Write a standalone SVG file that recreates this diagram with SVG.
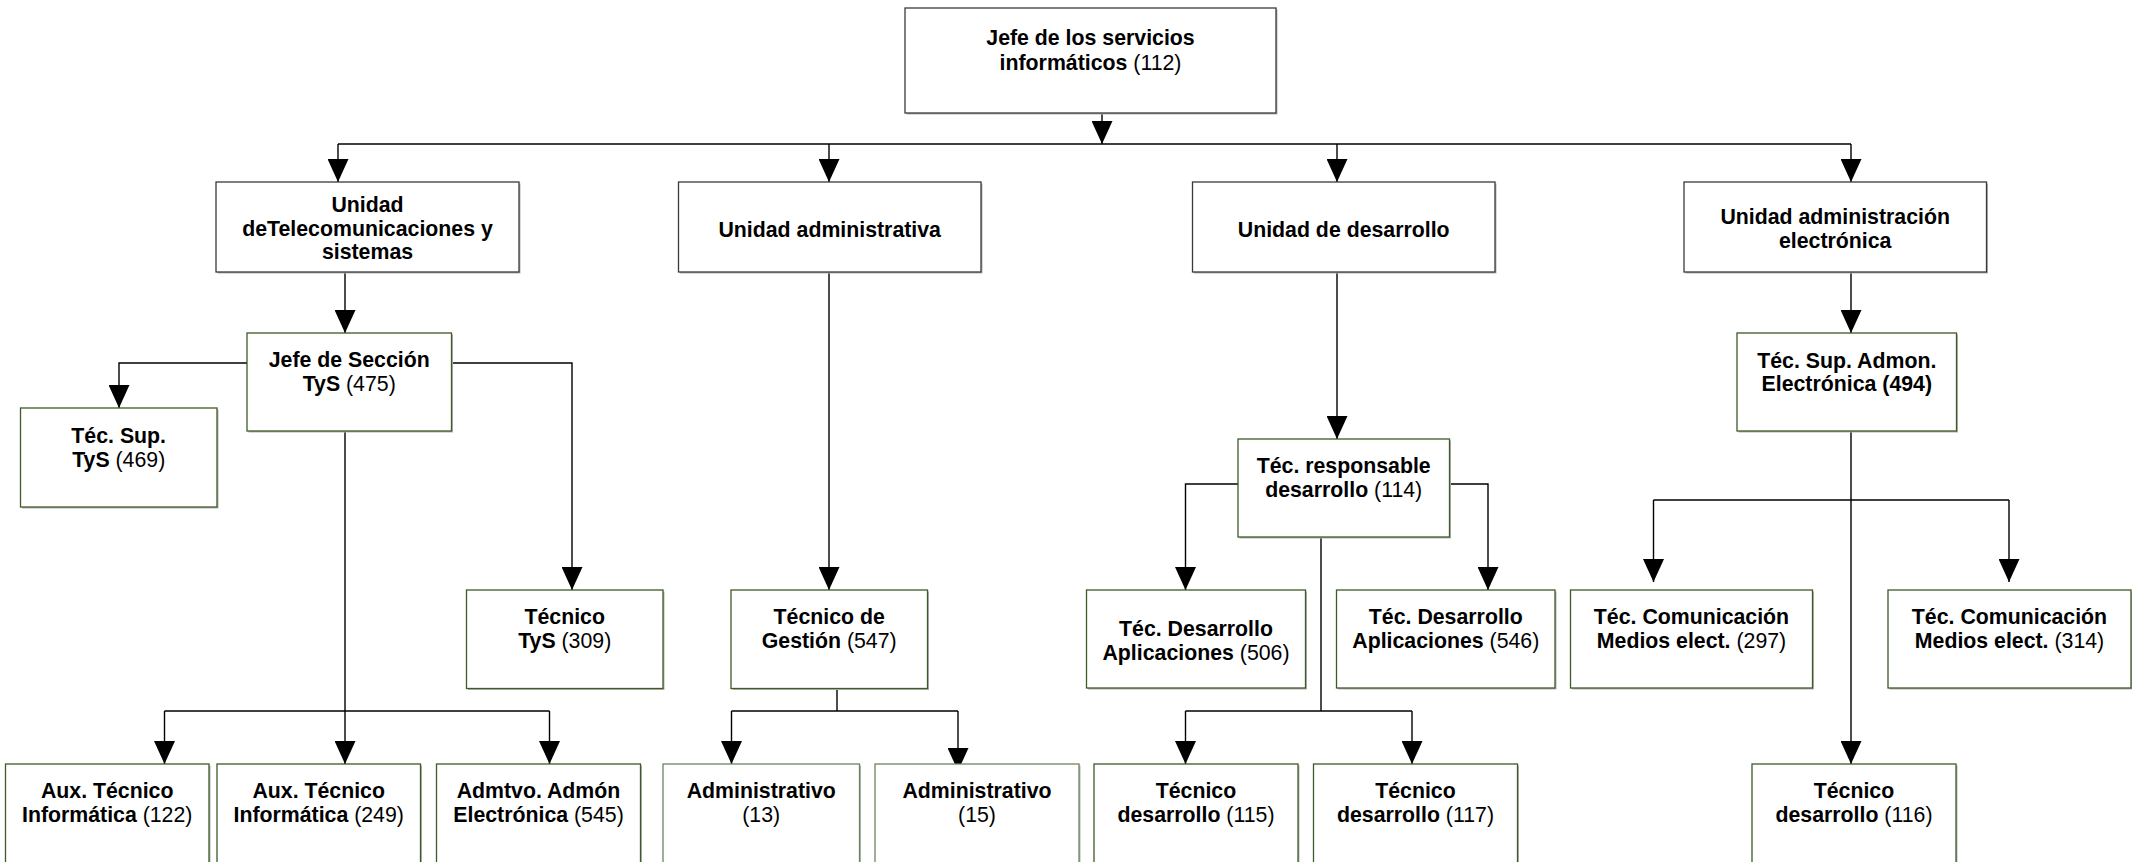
<svg xmlns="http://www.w3.org/2000/svg" width="2132" height="862" viewBox="0 0 2132 862">
<defs>
<style>
.b{fill:#fff;stroke:#3a3a3a;stroke-width:1.3}
.g{fill:#fff;stroke:#3d5a27;stroke-width:1.3}
.g2{fill:#fff;stroke:#6f8460;stroke-width:1.3}
.sh{fill:#b4b4b4}
text{font-family:"Liberation Sans",Arial,sans-serif;font-size:21.3px;fill:#000;text-anchor:middle}
.bd{font-weight:bold}
.c{fill:none;stroke:#000;stroke-width:1.4}
.ca{fill:none;stroke:#000;stroke-width:1.4;marker-end:url(#ah)}
</style>
<marker id="ah" markerUnits="userSpaceOnUse" markerWidth="23" markerHeight="21" viewBox="0 0 23 21" refX="23" refY="10.5" orient="auto">
<path d="M0,0 L23,10.5 L0,21 z" fill="#000"/>
</marker>
</defs>
<rect width="2132" height="862" fill="#fff"/>

<g id="connectors">
<path class="ca" d="M1102,113 V144"/>
<path class="c" d="M338,144 H1851"/>
<path class="ca" d="M338,144 V182"/>
<path class="ca" d="M829,144 V182"/>
<path class="ca" d="M1337,144 V182"/>
<path class="ca" d="M1851,144 V182"/>
<path class="ca" d="M345,272 V333"/>
<path class="ca" d="M247,363 H119 V408"/>
<path class="ca" d="M451,363 H572 V590"/>
<path class="ca" d="M345,431 V764"/>
<path class="c" d="M164.5,711 H549.5"/>
<path class="ca" d="M164.5,711 V764"/>
<path class="ca" d="M549.5,711 V764"/>
<path class="ca" d="M829,272 V590"/>
<path class="c" d="M837,689 V711"/>
<path class="c" d="M731.5,711 H958"/>
<path class="ca" d="M731.5,711 V764"/>
<path class="ca" d="M958,711 V771"/>
<path class="ca" d="M1337,272 V439"/>
<path class="ca" d="M1238,484 H1185.5 V590"/>
<path class="ca" d="M1449.5,484 H1488 V590"/>
<path class="c" d="M1321,537 V711"/>
<path class="c" d="M1185.5,711 H1412"/>
<path class="ca" d="M1185.5,711 V764"/>
<path class="ca" d="M1412,711 V764"/>
<path class="ca" d="M1851,272 V333"/>
<path class="ca" d="M1851,431 V764"/>
<path class="c" d="M1653.5,500 H2009"/>
<path class="ca" d="M1653.5,500 V582"/>
<path class="ca" d="M2009,500 V582"/>
</g>

<g id="n-jefe">
<rect class="sh" x="906.5" y="9.5" width="371" height="105"/>
<rect class="b" x="905" y="8" width="371" height="105"/>
<text x="1090.5" y="44.5"><tspan class="bd">Jefe de los servicios</tspan></text>
<text x="1090.5" y="70"><tspan class="bd">informáticos</tspan> (112)</text>
</g>

<g id="n-uts">
<rect class="sh" x="217.5" y="183.5" width="303" height="90"/>
<rect class="b" x="216" y="182" width="303" height="90"/>
<text x="367.5" y="211.7" class="bd">Unidad</text>
<text x="367.5" y="235.5" class="bd">deTelecomunicaciones y</text>
<text x="367.5" y="259.3" class="bd">sistemas</text>
</g>

<g id="n-uadm">
<rect class="sh" x="680" y="183.5" width="302.5" height="90"/>
<rect class="b" x="678.5" y="182" width="302.5" height="90"/>
<text x="829.7" y="236.5" class="bd">Unidad administrativa</text>
</g>

<g id="n-udes">
<rect class="sh" x="1194" y="183.5" width="302.5" height="90"/>
<rect class="b" x="1192.5" y="182" width="302.5" height="90"/>
<text x="1343.7" y="236.5" class="bd">Unidad de desarrollo</text>
</g>

<g id="n-uae">
<rect class="sh" x="1685.5" y="183.5" width="302.5" height="90"/>
<rect class="b" x="1684" y="182" width="302.5" height="90"/>
<text x="1835.2" y="224" class="bd">Unidad administración</text>
<text x="1835.2" y="248" class="bd">electrónica</text>
</g>

<g id="n-jsec">
<rect class="sh" x="248.5" y="334.5" width="204.5" height="98"/>
<rect class="g" x="247" y="333" width="204.5" height="98"/>
<text x="349.2" y="367" class="bd">Jefe de Sección</text>
<text x="349.2" y="390.5"><tspan class="bd">TyS</tspan> (475)</text>
</g>

<g id="n-tsup">
<rect class="sh" x="22" y="409.5" width="196.5" height="99"/>
<rect class="g" x="20.5" y="408" width="196.5" height="99"/>
<text x="118.7" y="443" class="bd">Téc. Sup.</text>
<text x="118.7" y="467"><tspan class="bd">TyS</tspan> (469)</text>
</g>

<g id="n-ttys">
<rect class="sh" x="468" y="591.5" width="196.5" height="98.5"/>
<rect class="g" x="466.5" y="590" width="196.5" height="98.5"/>
<text x="564.7" y="623.7" class="bd">Técnico</text>
<text x="564.7" y="648.3"><tspan class="bd">TyS</tspan> (309)</text>
</g>

<g id="n-tges">
<rect class="sh" x="732.5" y="591.5" width="196.5" height="98.5"/>
<rect class="g" x="731" y="590" width="196.5" height="98.5"/>
<text x="829.2" y="623.7" class="bd">Técnico de</text>
<text x="829.2" y="648.3"><tspan class="bd">Gestión</tspan> (547)</text>
</g>

<g id="n-tresp">
<rect class="sh" x="1239.5" y="440.5" width="211.5" height="98"/>
<rect class="g" x="1238" y="439" width="211.5" height="98"/>
<text x="1343.7" y="473" class="bd">Téc. responsable</text>
<text x="1343.7" y="497"><tspan class="bd">desarrollo</tspan> (114)</text>
</g>

<g id="n-tsae">
<rect class="sh" x="1738.5" y="334.5" width="219.5" height="98"/>
<rect class="g" x="1737" y="333" width="219.5" height="98"/>
<text x="1846.8" y="367.5" class="bd">Téc. Sup. Admon.</text>
<text x="1846.8" y="391" class="bd">Electrónica (494)</text>
</g>

<g id="n-tda506">
<rect class="sh" x="1088" y="591.5" width="219" height="98"/>
<rect class="g" x="1086.5" y="590" width="219" height="98"/>
<text x="1196" y="635.5" class="bd">Téc. Desarrollo</text>
<text x="1196" y="659.5"><tspan class="bd">Aplicaciones</tspan> (506)</text>
</g>

<g id="n-tda546">
<rect class="sh" x="1338" y="591.5" width="218.5" height="98"/>
<rect class="g" x="1336.5" y="590" width="218.5" height="98"/>
<text x="1445.8" y="623.5" class="bd">Téc. Desarrollo</text>
<text x="1445.8" y="647.5"><tspan class="bd">Aplicaciones</tspan> (546)</text>
</g>

<g id="n-tcm297">
<rect class="sh" x="1572" y="591.5" width="242" height="98"/>
<rect class="g" x="1570.5" y="590" width="242" height="98"/>
<text x="1691.5" y="623.5" class="bd">Téc. Comunicación</text>
<text x="1691.5" y="647.5"><tspan class="bd">Medios elect.</tspan> (297)</text>
</g>

<g id="n-tcm314">
<rect class="sh" x="1889.5" y="591.5" width="243" height="98"/>
<rect class="g" x="1888" y="590" width="243" height="98"/>
<text x="2009.5" y="623.5" class="bd">Téc. Comunicación</text>
<text x="2009.5" y="647.5"><tspan class="bd">Medios elect.</tspan> (314)</text>
</g>

<g id="n-aux122">
<rect class="sh" x="7" y="765.5" width="203.5" height="100"/>
<rect class="g" x="5.5" y="764" width="203.5" height="100"/>
<text x="107.2" y="798" class="bd">Aux. Técnico</text>
<text x="107.2" y="822"><tspan class="bd">Informática</tspan> (122)</text>
</g>

<g id="n-aux249">
<rect class="sh" x="218.5" y="765.5" width="203.5" height="100"/>
<rect class="g" x="217" y="764" width="203.5" height="100"/>
<text x="318.7" y="798" class="bd">Aux. Técnico</text>
<text x="318.7" y="822"><tspan class="bd">Informática</tspan> (249)</text>
</g>

<g id="n-admtvo545">
<rect class="sh" x="438" y="765.5" width="204" height="100"/>
<rect class="g" x="436.5" y="764" width="204" height="100"/>
<text x="538.5" y="798" class="bd">Admtvo. Admón</text>
<text x="538.5" y="822"><tspan class="bd">Electrónica</tspan> (545)</text>
</g>

<g id="n-adm13">
<rect class="sh" x="664.5" y="765.5" width="196.5" height="100"/>
<rect class="g2" x="663" y="764" width="196.5" height="100"/>
<text x="761.2" y="798" class="bd">Administrativo</text>
<text x="761.2" y="822">(13)</text>
</g>

<g id="n-adm15">
<rect class="sh" x="876.5" y="765.5" width="204" height="100"/>
<rect class="g2" x="875" y="764" width="204" height="100"/>
<text x="977" y="798" class="bd">Administrativo</text>
<text x="977" y="822">(15)</text>
</g>

<g id="n-td115">
<rect class="sh" x="1095.5" y="765.5" width="204" height="100"/>
<rect class="g" x="1094" y="764" width="204" height="100"/>
<text x="1196" y="798" class="bd">Técnico</text>
<text x="1196" y="822"><tspan class="bd">desarrollo</tspan> (115)</text>
</g>

<g id="n-td117">
<rect class="sh" x="1315" y="765.5" width="204" height="100"/>
<rect class="g" x="1313.5" y="764" width="204" height="100"/>
<text x="1415.5" y="798" class="bd">Técnico</text>
<text x="1415.5" y="822"><tspan class="bd">desarrollo</tspan> (117)</text>
</g>

<g id="n-td116">
<rect class="sh" x="1753.5" y="765.5" width="204" height="100"/>
<rect class="g" x="1752" y="764" width="204" height="100"/>
<text x="1854" y="798" class="bd">Técnico</text>
<text x="1854" y="822"><tspan class="bd">desarrollo</tspan> (116)</text>
</g>
</svg>
